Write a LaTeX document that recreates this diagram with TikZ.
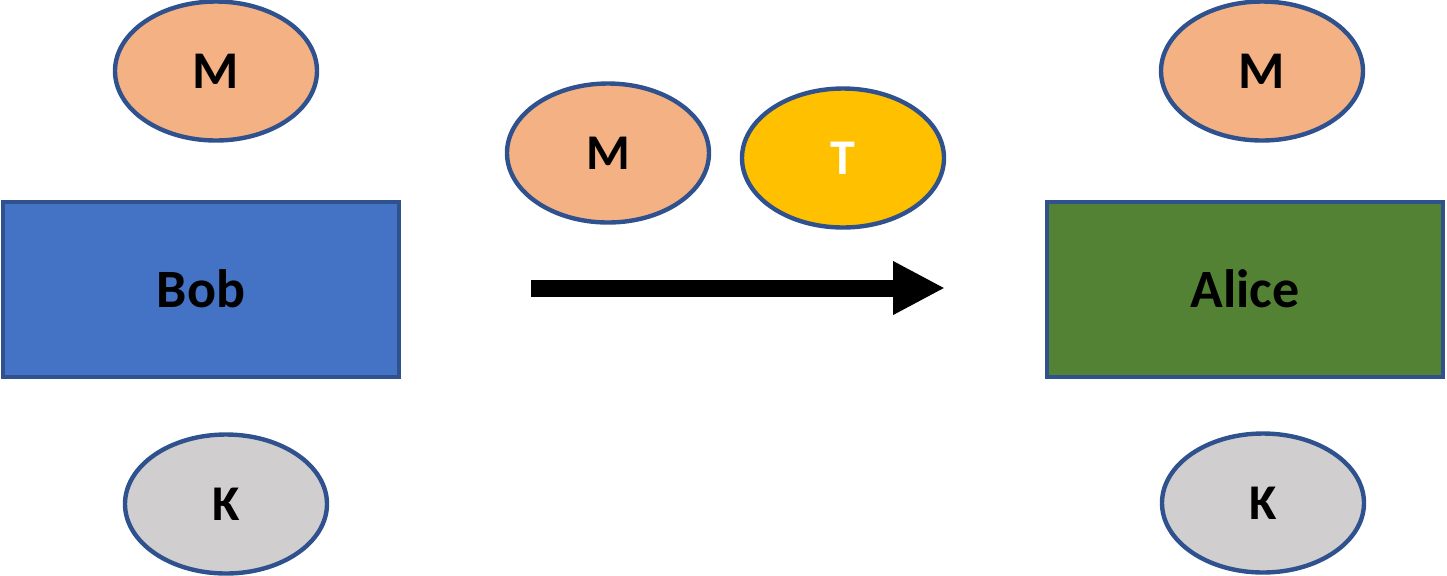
\documentclass[tikz,border=0pt]{standalone}
\usepackage{fontspec}
\setmainfont{Carlito}
\usetikzlibrary{positioning,calc,arrows.meta,shapes.geometric}
\definecolor{edgeblue}{HTML}{2F528F}
\definecolor{bobblue}{HTML}{4472C4}
\definecolor{alicegreen}{HTML}{548235}
\definecolor{msgorange}{HTML}{F4B183}
\definecolor{taggold}{HTML}{FFC000}
\definecolor{keygrey}{HTML}{D0CECE}
\tikzset{font=\bfseries}

\begin{document}
\begin{tikzpicture}[x=0.5pt, y=-0.5pt]
	\useasboundingbox (0, 0) rectangle (1447, 575);
	\begin{scope}
		\tikzstyle{party}=[draw=edgeblue, line width=2pt, inner sep=0pt, minimum width=198pt, minimum height=87.5pt, font=\fontsize{27}{30}\selectfont\bfseries]
		\tikzstyle{token}=[ellipse, draw=edgeblue, line width=2.2pt, inner sep=0pt, minimum width=101pt, minimum height=69.5pt, font=\fontsize{26.5}{30}\selectfont\bfseries]
		\tikzstyle{small}=[font=\fontsize{25}{28}\selectfont\bfseries]
		\node[party, fill=bobblue] (bob) at (201, 289) {Bob};
		\node[party, fill=alicegreen] (alice) at (1245, 289) {Alice};

		\node[token, fill=msgorange] (mbob) at (216, 71) {M};
		\node[token, small, fill=keygrey] (kbob) at (226, 504) {K};
		\node[token, fill=msgorange] (malice) at (1262, 71) {M};
		\node[token, small, fill=keygrey] (kalice) at (1263, 503) {K};

		\node[token, small, fill=msgorange] (msent) at (608, 153) {M};
		\node[token, small, fill=taggold, text=white] (tsent) at (843, 158) {T};

		\coordinate (from) at (531, 288);
		\coordinate (to) at (945, 288);
		\draw[line width=8.5pt, -{Triangle[length=26pt, width=25pt]}] (from) -- (to);
	\end{scope}
\end{tikzpicture}
\end{document}
